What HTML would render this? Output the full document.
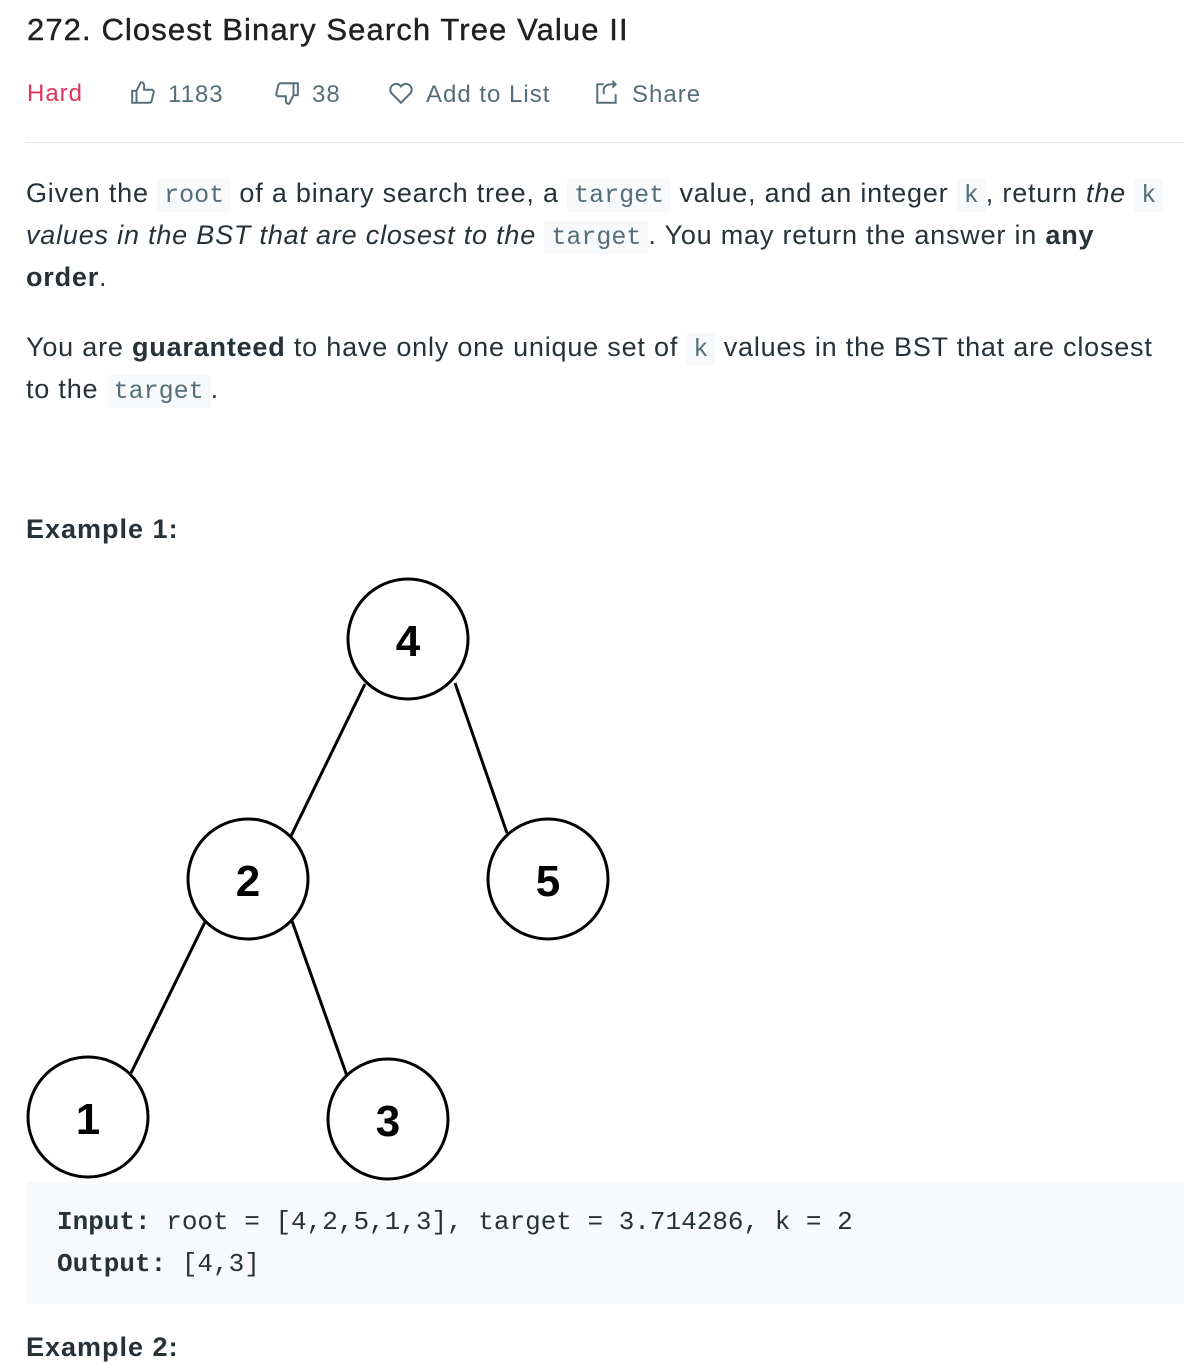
<!DOCTYPE html>
<html><head><meta charset="utf-8"><style>
body{margin:0;width:1192px;height:1350px;background:#fff;position:relative;overflow:hidden;font-family:"Liberation Sans",sans-serif;color:#263238}
.a{position:absolute;white-space:nowrap}
.t{font-size:27px;line-height:42px;letter-spacing:0.8px}
code{font-family:"Liberation Mono",monospace;font-size:25px;background:#f7f9fa;padding:2px 7px;border-radius:3px;color:#546e7a;letter-spacing:0}
.m{color:#546e7a;font-size:24px;letter-spacing:1px}
.m svg{vertical-align:-4px;margin-right:12px}
</style></head><body>
<div class="a" style="left:27px;top:12px;font-size:31px;letter-spacing:1.1px;color:#212121;-webkit-text-stroke:0.4px #212121">272. Closest Binary Search Tree Value II</div>
<div class="a m" style="left:27px;top:80px;color:#e0345b">Hard</div>
<div class="a m" style="left:130px;top:80px"><svg width="26" height="26" viewBox="0 0 24 24" fill="none" stroke="#546e7a" stroke-width="1.8"><path d="M2 10h4v11H2zM6 10l4-8c2 0 3 1 3 3v4h7c1 0 2 1 2 2l-2 8c0 1-1 2-2 2H6"/></svg>1183</div>
<div class="a m" style="left:274px;top:80px"><svg width="26" height="26" viewBox="0 0 24 24" fill="none" stroke="#546e7a" stroke-width="1.8"><path d="M22 14h-4V3h4zM18 14l-4 8c-2 0-3-1-3-3v-4H4c-1 0-2-1-2-2l2-8c0-1 1-2 2-2h12"/></svg>38</div>
<div class="a m" style="left:388px;top:80px"><svg width="26" height="26" viewBox="0 0 24 24" fill="none" stroke="#546e7a" stroke-width="1.8"><path d="M12 21L3 12a5 5 0 0 1 9-6a5 5 0 0 1 9 6z"/></svg>Add to List</div>
<div class="a m" style="left:594px;top:80px"><svg width="26" height="26" viewBox="0 0 24 24" fill="none" stroke="#546e7a" stroke-width="1.8"><path d="M9 4H3v17h17v-8M9 13V9c0-3 3-5 6-5h5M17 1l3 3-3 3"/></svg>Share</div>
<div class="a" style="left:26px;top:142px;width:1158px;height:1px;background:#e6e6e6"></div>
<div class="a t" style="left:26px;top:172px">Given the <code>root</code> of a binary search tree, a <code>target</code> value, and an integer <code>k</code>, return <i>the</i> <code>k</code></div>
<div class="a t" style="left:26px;top:214px"><i>values in the BST that are closest to the</i> <code>target</code>. You may return the answer in <b>any</b></div>
<div class="a t" style="left:26px;top:256px"><b>order</b>.</div>
<div class="a t" style="left:26px;top:326px">You are <b>guaranteed</b> to have only one unique set of <code>k</code> values in the BST that are closest</div>
<div class="a t" style="left:26px;top:368px">to the <code>target</code>.</div>
<div class="a t" style="left:26px;top:508px;font-weight:bold;letter-spacing:1px">Example 1:</div>
<svg class="a" style="left:0;top:0" width="1192" height="1350">
<g stroke="#000" stroke-width="3" fill="#fff">
<line x1="365" y1="684" x2="291" y2="836"/><line x1="455" y1="683" x2="507" y2="833"/>
<line x1="205" y1="922" x2="131" y2="1073"/><line x1="292" y1="921" x2="347" y2="1076"/>
<circle cx="408" cy="639" r="60"/><circle cx="248" cy="879" r="60"/><circle cx="548" cy="879" r="60"/>
<circle cx="88" cy="1117" r="60"/><circle cx="388" cy="1119" r="60"/>
</g>
<g font-family="Liberation Sans" font-weight="bold" font-size="44" text-anchor="middle" fill="#000">
<text x="408" y="656">4</text><text x="248" y="896">2</text><text x="548" y="896">5</text><text x="88" y="1134">1</text><text x="388" y="1136">3</text>
</g></svg>
<div class="a" style="left:26px;top:1182px;width:1158px;height:122px;background:#f7f9fa;border-radius:4px"></div>
<div class="a" style="left:57px;top:1201px;font-family:'Liberation Mono',monospace;font-size:26px;letter-spacing:0;line-height:42px;color:#263238"><b>Input:</b> root = [4,2,5,1,3], target = 3.714286, k = 2<br><b>Output:</b> [4,3]</div>
<div class="a t" style="left:26px;top:1326px;font-weight:bold;letter-spacing:1px">Example 2:</div>
</body></html>
